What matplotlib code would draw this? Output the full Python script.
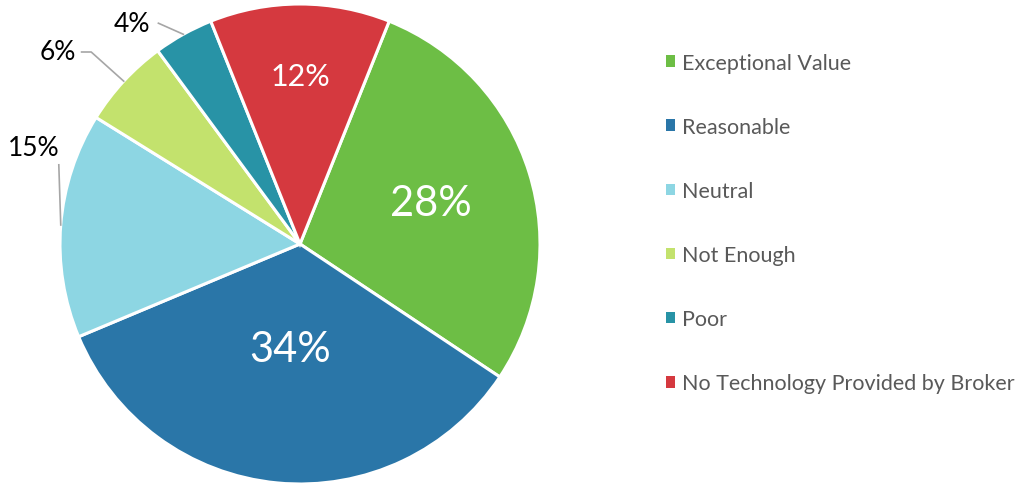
import matplotlib
matplotlib.use("Agg")
import numpy as np
import matplotlib.pyplot as plt
from matplotlib.patches import Patch

# survey answers, clockwise from the top
categories = ["Exceptional Value", "Reasonable", "Neutral", "Not Enough", "Poor",
              "No Technology Provided by Broker"]
shares = [28, 34, 15, 6, 4, 12]
colors = ["#6DBE45", "#2A76A8", "#8DD6E3", "#C3E26D", "#2893A6", "#D5393F"]

# label placement: radius for labels inside a wedge, text position for outside ones
inside_radius = {0: 0.57, 1: 0.44, 5: 0.70}
outside_text = {2: (-1.11, 0.40), 3: (-1.01, 0.80), 4: (-0.70, 0.92)}

plt.rcParams["font.family"] = ["Lato", "DejaVu Sans"]

fig = plt.figure(figsize=(10.19, 4.85), dpi=100)
ax = fig.add_axes([60 / 1019, 0, 480 / 1019, 480 / 485])

red_half = shares[-1] / sum(shares) * 360 / 2
wedges, _ = ax.pie(shares, colors=colors, startangle=90 - red_half, counterclock=False,
                   wedgeprops=dict(edgecolor="white", linewidth=2.2))
ax.set_xlim(-1, 1)
ax.set_ylim(-1, 1)
ax.set_aspect("equal")
ax.axis("off")

for i, (w, v) in enumerate(zip(wedges, shares)):
    mid = np.deg2rad((w.theta1 + w.theta2) / 2)
    label = f"{v}%"
    if i in inside_radius:
        r = inside_radius[i]
        size = 22 if i == 5 else 30
        ax.text(r * np.cos(mid), r * np.sin(mid), label, color="white",
                fontsize=size, ha="center", va="center")
    else:
        tx, ty = outside_text[i]
        ex, ey = np.cos(mid), np.sin(mid)
        ax.text(tx, ty, label, color="black", fontsize=19, ha="center", va="center")
        if i == 2:
            xs, ys = [tx + 0.105, ex], [ty - 0.07, ey]
        elif i == 3:
            xs, ys = [tx + 0.10, tx + 0.14, ex], [ty, ty, ey]
        else:
            xs, ys = [tx + 0.11, ex], [ty, ey]
        ax.plot(xs, ys, color="#A6A6A6", lw=1.2, clip_on=False)

handles = [Patch(facecolor=c, edgecolor="none") for c in colors]
fig.legend(handles, categories, loc="upper left", bbox_to_anchor=(655 / 1019, 1 - 43 / 485),
           frameon=False, fontsize=15.5, labelcolor="#595959", handlelength=0.45,
           handleheight=0.45, handletextpad=0.3, labelspacing=2.05, borderpad=0)

fig.savefig("out.png", dpi=100)
